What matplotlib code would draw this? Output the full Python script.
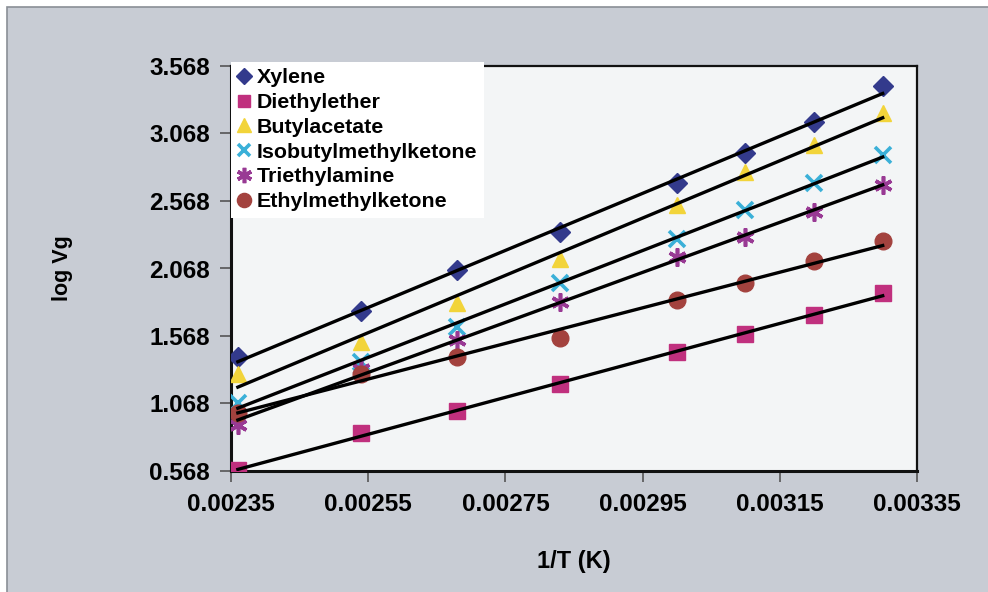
import numpy as np
import matplotlib
matplotlib.use("Agg")
from matplotlib import pyplot as plt
from matplotlib.patches import Rectangle

plt.rcParams['font.family'] = ['Liberation Sans', 'DejaVu Sans']
plt.rcParams['font.weight'] = 'bold'

# 1/T values (K^-1)
inv_T = [0.00236, 0.00254, 0.00268, 0.00283, 0.00300, 0.00310, 0.00320, 0.00330]

# log Vg for each solvent
xylene = [1.41, 1.75, 2.06, 2.34, 2.70, 2.92, 3.15, 3.42]
diethylether = [0.575, 0.85, 1.01, 1.215, 1.45, 1.58, 1.72, 1.89]
butylacetate = [1.29, 1.52, 1.81, 2.14, 2.54, 2.78, 2.98, 3.22]
isobutylmethylketone = [1.07, 1.375, 1.635, 1.96, 2.29, 2.50, 2.70, 2.91]
triethylamine = [0.91, 1.32, 1.54, 1.82, 2.15, 2.30, 2.49, 2.69]
ethylmethylketone = [1.00, 1.29, 1.41, 1.55, 1.835, 1.96, 2.12, 2.27]

names = ['Xylene', 'Diethylether', 'Butylacetate', 'Isobutylmethylketone',
         'Triethylamine', 'Ethylmethylketone']
series = [xylene, diethylether, butylacetate, isobutylmethylketone,
          triethylamine, ethylmethylketone]
colors = ['#333a8c', '#c0307e', '#f2d43a', '#3ab0d8', '#993a94', '#a3423e']
markers = ['D', 's', '^', 'x', (6, 2, 0), 'o']
sizes = [10, 11, 12, 11, 13, 12]

y_ticks = [0.568, 1.068, 1.568, 2.068, 2.568, 3.068, 3.568]
x_ticks = [0.00235, 0.00255, 0.00275, 0.00295, 0.00315, 0.00335]

fig = plt.figure(figsize=(9.88, 5.92), dpi=100)
fig.patch.set_facecolor('white')
fig.add_artist(Rectangle((7 / 988, -0.01), 1.0, 1 - 7 / 592 + 0.01,
                         transform=fig.transFigure, facecolor='#c8ccd4',
                         edgecolor='#8a8f96', linewidth=1.2, zorder=-10))

ax = fig.add_axes([231 / 988, 121 / 592, 686 / 988, 405 / 592])
ax.set_facecolor('#f3f5f6')

for name, ys, c, m, s in zip(names, series, colors, markers, sizes):
    mew = 2.6 if m in ('x', (6, 2, 0)) else 1
    ax.plot(inv_T, ys, linestyle='none', marker=m, color=c, markersize=s,
            markeredgewidth=mew, markeredgecolor=c, label=name, zorder=3)
    # linear trend line
    k, b = np.polyfit(inv_T, ys, 1)
    xs = np.array([inv_T[0], inv_T[-1]])
    ax.plot(xs, k * xs + b, color='black', linewidth=2.4, zorder=4)

ax.set_xlim(0.00235, 0.00335)
ax.set_ylim(0.568, 3.568)
ax.set_xticks(x_ticks)
ax.set_yticks(y_ticks)
ax.set_xticklabels(['%.5f' % v for v in x_ticks])
ax.set_yticklabels(['%.3f' % v for v in y_ticks])
ax.tick_params(axis='both', labelsize=17.5, length=8, width=1.2,
               color='#555555', direction='out')
ax.tick_params(axis='y', pad=7)
ax.tick_params(axis='x', pad=8)

for side in ['left', 'bottom']:
    ax.spines[side].set_linewidth(2.2)
for side in ['top', 'right']:
    ax.spines[side].set_linewidth(1.6)
for sp in ax.spines.values():
    sp.set_color('#111111')

ax.set_ylabel('log Vg', fontsize=15.5, fontweight='bold', labelpad=55)
ax.set_xlabel('1/T (K)', fontsize=17, fontweight='bold', labelpad=24)

leg = ax.legend(loc='upper left', bbox_to_anchor=(0, 1.01), borderaxespad=0,
                frameon=True, fancybox=False, framealpha=1, handlelength=0.6,
                handletextpad=0.3, labelspacing=0.27, borderpad=0.3,
                markerscale=0.85, prop={'size': 15.4, 'weight': 'bold'})
leg.get_frame().set_facecolor('white')
leg.get_frame().set_edgecolor('none')
leg.set_zorder(6)

fig.savefig('out.png', dpi=100, facecolor=fig.get_facecolor())
